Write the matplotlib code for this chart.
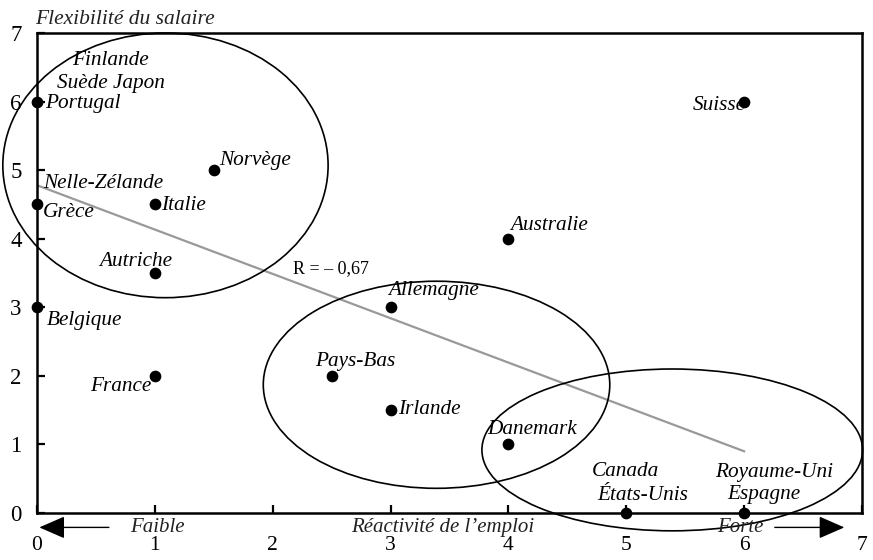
import matplotlib
matplotlib.use("Agg")
import matplotlib.pyplot as plt
from matplotlib.patches import Ellipse

# pays (points) : réactivité de l'emploi, flexibilité du salaire
pts_x = [0, 1.5, 0, 1, 1, 0, 1, 2.5, 3, 3, 4, 4, 6, 5, 6]
pts_y = [6, 5, 4.5, 4.5, 3.5, 3, 2, 2, 3, 1.5, 1, 4, 6, 0, 0]

# étiquettes : nom, point de rattachement
lab_names = ["Finlande", "Suède Japon", "Portugal", "Norvège", "Nelle-Zélande",
             "Grèce", "Italie", "Autriche", "Belgique", "France", "Pays-Bas",
             "Allemagne", "Irlande", "Danemark", "Australie", "Suisse",
             "Canada", "États-Unis", "Royaume-Uni", "Espagne"]
lab_x = [0, 0, 0, 1.5, 0, 0, 1, 1, 0, 1, 2.5, 3, 3, 4, 4, 6, 5, 5, 6, 6]
lab_y = [6, 6, 6, 5, 4.5, 4.5, 4.5, 3.5, 3, 2, 2, 3, 1.5, 1, 4, 6, 0, 0, 0, 0]

# droite de régression
reg_x = [0, 6]
reg_y = [4.78, 0.9]
r_text = "R = – 0,67"

# groupes (ellipses) : centre x, centre y, largeur, hauteur
ell_cx = [1.09, 3.39, 5.39]
ell_cy = [5.07, 1.87, 0.92]
ell_w = [2.76, 2.94, 3.23]
ell_h = [3.86, 3.02, 2.36]

ticks = [0, 1, 2, 3, 4, 5, 6, 7]

# décalages des étiquettes (pixels) et alignement
lab_style = {
    "Finlande": (73, 41, "center"),
    "Suède Japon": (74, 18, "center"),
    "Portugal": (8, -2, "left"),
    "Norvège": (5, 10, "left"),
    "Nelle-Zélande": (6, 21, "left"),
    "Grèce": (6, -8, "left"),
    "Italie": (6, -1, "left"),
    "Autriche": (-19, 11, "center"),
    "Belgique": (10, -13, "left"),
    "France": (-3, -11, "right"),
    "Pays-Bas": (24, 14, "center"),
    "Allemagne": (43, 17, "center"),
    "Irlande": (8, 1, "left"),
    "Danemark": (24, 15, "center"),
    "Australie": (2, 13, "left"),
    "Suisse": (2, -4, "right"),
    "Canada": (-34, 42, "left"),
    "États-Unis": (-29, 18, "left"),
    "Royaume-Uni": (-29, 41, "left"),
    "Espagne": (-17, 19, "left"),
}

plt.rcParams["font.family"] = ["Liberation Serif", "DejaVu Serif"]

fig = plt.figure(figsize=(8.73, 5.6), dpi=100)
ax = fig.add_axes([37 / 873, 47 / 560, 825 / 873, 480 / 560])
ax.set_xlim(0, 7)
ax.set_ylim(0, 7)

for s in ax.spines.values():
    s.set_linewidth(1.8)
ax.set_xticks(ticks)
ax.set_yticks(ticks)
ax.tick_params(direction="in", length=6, width=1.6, labelsize=16.5)
ax.tick_params(axis="x", labelsize=15.5, pad=16.5)
ax.tick_params(axis="y", pad=11)

# ellipses
for cx, cy, w, h in zip(ell_cx, ell_cy, ell_w, ell_h):
    ax.add_patch(Ellipse((cx, cy), w, h, fill=False, ec="black", lw=1.2,
                         clip_on=False, zorder=3))

# régression
ax.plot(reg_x, reg_y, color="#999999", lw=1.6, zorder=2)
ax.text(2.49, 3.56, r_text, fontsize=13, ha="center", va="center")

# points
ax.scatter(pts_x, pts_y, s=55, color="black", clip_on=False, zorder=5)

for name, x, y in zip(lab_names, lab_x, lab_y):
    dx, dy, ha = lab_style[name]
    ax.annotate(name, (x, y), xytext=(dx, dy), textcoords="offset pixels",
                ha=ha, va="center", fontsize=15.3, style="italic",
                annotation_clip=False, zorder=6)

# titre axe y
fig.text(35 / 873, 1 - 19 / 560, "Flexibilité du salaire", fontsize=15.5,
         style="italic", ha="left", va="center", color="#222222")

# légende axe x avec flèches
yrow = -0.21
ax.text(1.02, yrow, "Faible", fontsize=15, style="italic", ha="center",
        va="center", color="#222222")
ax.text(3.44, yrow, "Réactivité de l\u2019emploi", fontsize=15, style="italic",
        ha="center", va="center", color="#222222")
ax.text(5.97, yrow, "Forte", fontsize=15, style="italic", ha="center",
        va="center", color="#222222")
arrow = dict(arrowstyle="-|>,head_length=0.8,head_width=0.35", color="black",
             lw=1.0, mutation_scale=20, shrinkA=0, shrinkB=0)
ax.annotate("", xy=(0.02, yrow), xytext=(0.61, yrow), arrowprops=arrow,
            annotation_clip=False)
ax.annotate("", xy=(6.85, yrow), xytext=(6.26, yrow), arrowprops=arrow,
            annotation_clip=False)

fig.savefig("out.png", dpi=100)
